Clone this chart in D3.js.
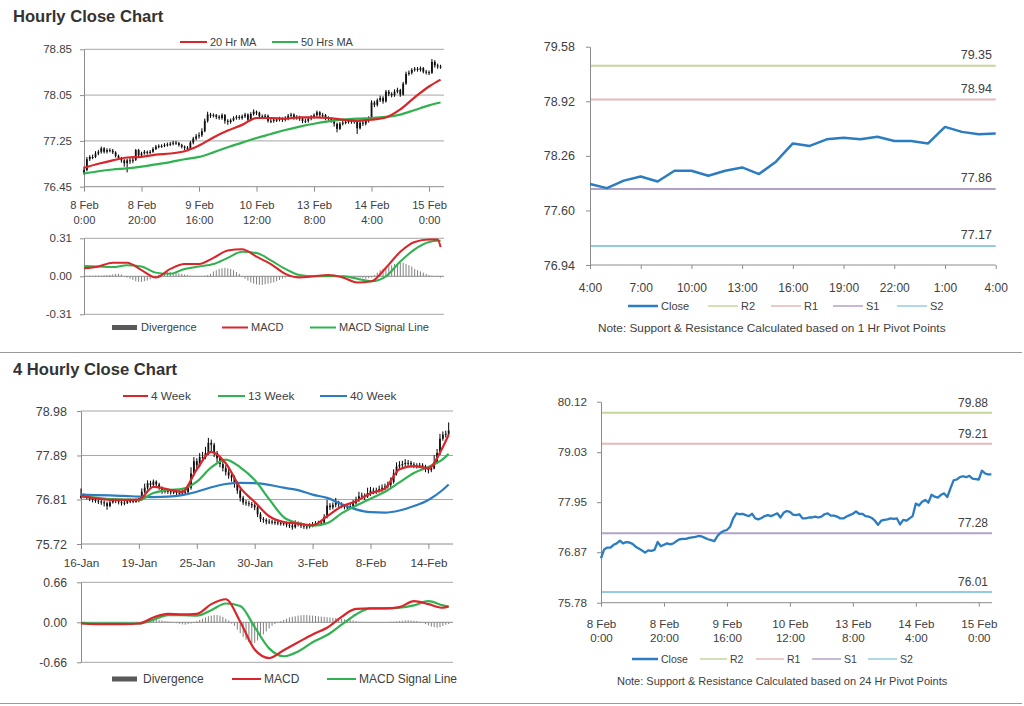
<!DOCTYPE html>
<html><head><meta charset="utf-8">
<script src="https://cdnjs.cloudflare.com/ajax/libs/d3/7.8.5/d3.min.js"></script>
<style>body{margin:0;background:#fff;} svg{display:block;font-family:"Liberation Sans",Arial,sans-serif;}</style>
</head><body><svg id="chart" width="1024" height="706"></svg>
<script>
// ================= DATA =================
// Hourly bars, 8 Feb 0:00 .. 15 Feb 4:00 (125 bars)
const hourTickIdx = [0,20,40,60,80,100,120];
const hourTickDay = ['8 Feb','8 Feb','9 Feb','10 Feb','13 Feb','14 Feb','15 Feb'];
const hourTickTime = ['0:00','20:00','16:00','12:00','8:00','4:00','0:00'];
const hourlyFirstOpen = 76.70;
const hourlyClose = [76.74,76.93,76.97,76.97,77.03,77.06,77.12,77.06,77.09,77.08,
77.05,76.99,76.95,76.91,76.86,76.91,76.90,76.92,77.09,77.00,
77.03,77.06,77.04,77.06,77.11,77.15,77.16,77.16,77.18,77.19,
77.20,77.22,77.21,77.18,77.15,77.13,77.11,77.22,77.29,77.33,
77.35,77.42,77.60,77.71,77.69,77.70,77.67,77.65,77.70,77.60,
77.58,77.61,77.65,77.67,77.65,77.68,77.71,77.62,77.72,77.76,
77.74,77.68,77.67,77.69,77.60,77.60,77.62,77.62,77.64,77.62,
77.64,77.69,77.71,77.66,77.66,77.64,77.60,77.60,77.64,77.67,
77.70,77.75,77.70,77.70,77.65,77.64,77.61,77.55,77.46,77.55,
77.57,77.58,77.60,77.59,77.60,77.47,77.57,77.55,77.60,77.65,
77.92,77.88,77.96,78.00,77.94,78.11,78.07,78.05,78.11,78.14,
78.06,78.25,78.42,78.44,78.49,78.51,78.49,78.52,78.46,78.45,
78.44,78.63,78.57,78.55,78.55];
const hourlyHigh = [76.80,76.97,77.00,77.01,77.07,77.09,77.15,77.14,77.12,77.12,
77.11,77.07,77.01,76.97,76.93,76.94,76.95,76.96,77.11,77.11,
77.06,77.09,77.08,77.09,77.14,77.18,77.19,77.19,77.21,77.22,
77.23,77.25,77.25,77.23,77.20,77.17,77.16,77.25,77.32,77.37,
77.40,77.47,77.64,77.76,77.74,77.73,77.72,77.70,77.73,77.72,
77.63,77.64,77.68,77.70,77.70,77.71,77.74,77.73,77.75,77.80,
77.78,77.76,77.71,77.72,77.71,77.64,77.66,77.66,77.67,77.66,
77.68,77.72,77.74,77.73,77.70,77.69,77.66,77.64,77.67,77.70,
77.73,77.78,77.77,77.74,77.72,77.68,77.66,77.63,77.57,77.58,
77.60,77.61,77.63,77.63,77.63,77.62,77.60,77.60,77.63,77.68,
77.96,77.95,77.99,78.04,78.03,78.14,78.14,78.10,78.15,78.18,
78.16,78.28,78.46,78.48,78.52,78.54,78.54,78.55,78.54,78.49,
78.48,78.68,78.66,78.60,78.58];
const hourlyLow = [76.66,76.72,76.90,76.93,76.95,77.00,77.03,77.03,77.03,77.05,
77.02,76.96,76.92,76.87,76.80,76.70,76.85,76.86,76.90,76.97,
76.97,77.01,77.01,77.02,77.04,77.09,77.12,77.13,77.14,77.15,
77.16,77.17,77.18,77.15,77.12,77.09,77.07,77.09,77.19,77.26,
77.29,77.32,77.40,77.57,77.65,77.66,77.63,77.62,77.62,77.55,
77.53,77.55,77.59,77.62,77.62,77.62,77.65,77.59,77.60,77.69,
77.70,77.65,77.63,77.64,77.57,77.56,77.57,77.58,77.59,77.58,
77.59,77.61,77.66,77.62,77.62,77.60,77.56,77.56,77.57,77.61,
77.64,77.67,77.66,77.66,77.61,77.60,77.57,77.50,77.40,77.44,
77.52,77.54,77.55,77.55,77.55,77.37,77.45,77.51,77.52,77.57,
77.62,77.84,77.85,77.93,77.90,77.92,78.03,78.01,78.02,78.08,
78.02,78.04,78.23,78.39,78.41,78.46,78.46,78.46,78.43,78.41,
78.40,78.42,78.53,78.51,78.51];
const maIdxH = [0,5,10,15,20,25,30,35,40,45,50,55,60,65,70,75,80,85,90,95,100,105,110,115,120,124];
const ma20Hr = [76.78,76.85,76.91,76.96,76.97,77.01,77.03,77.07,77.17,77.31,77.43,77.53,77.65,77.65,77.64,77.66,77.66,77.65,77.62,77.60,77.62,77.66,77.80,78.01,78.20,78.32];
const ma50Hr = [76.68,76.72,76.75,76.77,76.80,76.84,76.88,76.93,76.97,77.05,77.14,77.22,77.30,77.37,77.44,77.50,77.55,77.59,77.62,77.64,77.65,77.67,77.71,77.79,77.87,77.92];
const macdIdxH = [0,5,10,15,20,25,30,35,40,45,50,55,60,65,70,75,80,85,90,95,100,105,110,115,120,123,124];
const macdH = [0.065,0.08,0.11,0.11,0.05,-0.01,0.06,0.10,0.10,0.15,0.21,0.22,0.16,0.10,0.02,-0.01,0.00,0.01,-0.01,-0.05,-0.04,0.07,0.20,0.28,0.30,0.30,0.24];
const signalH = [0.085,0.08,0.075,0.09,0.08,0.03,0.02,0.06,0.08,0.10,0.15,0.20,0.19,0.13,0.06,0.01,0.00,0.00,0.00,-0.02,-0.04,0.00,0.12,0.22,0.28,0.29,0.29];
const divergenceH = [0.003,-0.003,0.004,0.004,0.005,0.006,0.005,0.008,0.01,
0.012,0.015,0.02,0.02,0.015,0.0,-0.01,
-0.02,-0.03,-0.04,-0.045,-0.045,-0.04,-0.035,-0.025,-0.01,
0.005,0.015,0.025,0.03,0.035,0.035,0.03,0.03,0.025,0.02,0.015,0.01,0.005,0.0,
0.0,-0.005,0.0,0.005,0.01,0.02,
0.04,0.05,0.06,0.065,0.07,0.065,0.06,0.05,0.035,0.02,
0.0,-0.02,-0.035,-0.05,-0.06,-0.065,-0.07,-0.07,-0.065,-0.06,-0.055,-0.05,-0.04,-0.03,-0.02,-0.01,
-0.005,0,0.003,0,-0.003,0,0.003,0.005,0.003,0,-0.003,0,0.003,0.005,0.003,0,0,-0.003,0,0.003,0,-0.003,-0.005,-0.008,-0.01,
-0.012,-0.015,-0.02,-0.015,-0.01,
0.01,0.03,0.05,0.06,0.07,0.08,0.09,0.10,0.105,0.11,0.11,0.10,0.09,0.08,0.06,
0.05,0.04,0.03,0.02,0.01,0.005,0.0,-0.005,-0.01];

// Last 24 hours, hourly close 4:00 .. 4:00
const last24Labels = ['4:00','7:00','10:00','13:00','16:00','19:00','22:00','1:00','4:00'];
const last24Close = [77.92,77.87,77.96,78.01,77.95,78.08,78.08,78.02,78.08,78.12,78.04,78.19,78.41,78.38,78.46,78.48,78.46,78.49,78.44,78.44,78.41,78.61,78.55,78.52,78.53];
const pivotNames = ['R2','R1','S1','S2'];
const pivot1Hr = [79.35,78.94,77.86,77.17];
const pivot24Hr = [79.88,79.21,77.28,76.01];
const yTicks1Hr = [76.94,77.60,78.26,78.92,79.58];
const yTicks24Hr = [75.78,76.87,77.95,79.03,80.12];

// 4-hourly bars, 16 Jan .. 15 Feb (128 bars)
const fourTickIdx = [0,20,40,60,80,100,120];
const fourTickLabels = ['16-Jan','19-Jan','25-Jan','30-Jan','3-Feb','8-Feb','14-Feb'];
const fourFirstOpen = 76.85;
const close4h = [76.90,76.90,76.86,76.82,76.80,76.78,76.76,76.74,76.72,76.65,
76.74,76.80,76.77,76.75,76.72,76.73,76.77,76.78,76.77,76.78,
76.80,77.00,77.10,77.21,77.17,77.25,77.18,77.10,77.00,77.02,
77.01,76.99,77.00,76.97,76.96,76.98,76.99,77.10,77.45,77.75,
77.65,77.85,77.85,77.95,78.20,78.15,77.95,77.82,77.68,77.58,
77.48,77.40,77.35,77.20,77.03,76.85,76.74,76.72,76.70,76.67,
76.62,76.45,76.33,76.31,76.27,76.27,76.26,76.25,76.24,76.23,
76.23,76.19,76.17,76.13,76.20,76.22,76.17,76.15,76.14,76.18,
76.21,76.23,76.23,76.24,76.38,76.66,76.62,76.68,76.74,76.70,
76.66,76.63,76.61,76.65,76.72,76.80,76.89,76.91,76.88,76.97,
77.03,77.02,77.03,77.07,77.10,77.13,77.17,77.24,77.45,77.62,
77.66,77.68,77.71,77.71,77.67,77.65,77.64,77.65,77.62,77.58,
77.53,77.57,77.72,77.95,78.30,78.40,78.42,78.50];
const high4h = [77.08,76.96,76.93,76.90,76.86,76.84,76.83,76.81,76.79,76.76,
76.79,76.85,76.84,76.81,76.79,76.79,76.82,76.83,76.82,76.83,
76.85,77.08,77.20,77.28,77.27,77.30,77.28,77.22,77.13,77.08,
77.07,77.06,77.06,77.04,77.03,77.04,77.05,77.18,77.60,77.85,
77.82,77.95,77.98,78.10,78.32,78.28,78.20,78.00,77.88,77.75,
77.65,77.55,77.48,77.40,77.25,77.08,76.90,76.80,76.78,76.75,
76.72,76.66,76.50,76.38,76.35,76.33,76.32,76.31,76.30,76.29,
76.28,76.27,76.24,76.21,76.30,76.27,76.25,76.22,76.20,76.23,
76.26,76.28,76.29,76.30,76.45,76.80,76.72,76.74,76.85,76.78,
76.74,76.70,76.68,76.71,76.80,76.88,77.00,76.98,76.96,77.10,
77.12,77.10,77.10,77.15,77.18,77.20,77.25,77.35,77.55,77.72,
77.75,77.76,77.80,77.78,77.76,77.72,77.70,77.71,77.70,77.66,
77.62,77.65,77.90,78.05,78.42,78.48,78.50,78.70];
const low4h = [76.83,76.84,76.81,76.77,76.74,76.73,76.70,76.68,76.64,76.56,
76.62,76.71,76.72,76.69,76.66,76.67,76.70,76.72,76.72,76.73,
76.74,76.78,76.96,77.05,77.10,77.12,77.12,77.05,76.95,76.96,
76.95,76.93,76.94,76.92,76.91,76.92,76.94,76.96,77.05,77.40,
77.55,77.60,77.75,77.80,77.90,78.00,77.85,77.72,77.60,77.50,
77.40,77.32,77.25,77.10,76.95,76.76,76.68,76.66,76.64,76.60,
76.55,76.38,76.26,76.24,76.20,76.21,76.20,76.19,76.18,76.17,
76.17,76.13,76.11,76.07,76.10,76.15,76.11,76.09,76.08,76.10,
76.13,76.16,76.17,76.18,76.20,76.35,76.55,76.57,76.62,76.63,
76.60,76.57,76.55,76.57,76.60,76.68,76.75,76.82,76.80,76.85,
76.90,76.94,76.95,76.98,77.00,77.04,77.08,77.10,77.20,77.40,
77.55,77.58,77.62,77.63,77.60,77.58,77.57,77.58,77.55,77.48,
77.45,77.48,77.55,77.68,77.90,78.25,78.33,78.38];
const maIdx4h = [0,5,10,15,20,25,30,35,40,45,50,55,60,65,70,75,80,85,90,95,100,105,110,115,120,125,127];
const ma4Week = [76.90,76.84,76.80,76.80,76.81,77.12,77.06,77.00,77.55,77.98,77.70,77.10,76.75,76.40,76.26,76.22,76.18,76.40,76.64,76.77,76.96,77.08,77.55,77.63,77.58,78.10,78.40];
const ma13Week = [76.88,76.86,76.82,76.81,76.80,76.97,77.04,77.07,77.25,77.60,77.79,77.60,77.29,76.82,76.38,76.23,76.17,76.23,76.47,76.66,76.83,77.00,77.23,77.46,77.61,77.80,77.93];
const ma40Week = [76.93,76.92,76.91,76.90,76.88,76.87,76.88,76.92,77.00,77.11,77.19,77.22,77.21,77.17,77.10,77.04,76.93,76.85,76.70,76.57,76.50,76.49,76.54,76.65,76.80,77.05,77.18];
const macd4h = [-0.02,-0.03,-0.03,-0.03,-0.02,0.08,0.14,0.13,0.14,0.30,0.38,0.01,-0.45,-0.59,-0.46,-0.33,-0.20,-0.09,0.09,0.22,0.23,0.23,0.25,0.35,0.30,0.24,0.26];
const signal4h = [-0.01,-0.02,-0.02,-0.02,-0.02,0.04,0.12,0.12,0.11,0.20,0.31,0.27,-0.08,-0.43,-0.56,-0.48,-0.33,-0.21,-0.04,0.13,0.23,0.23,0.24,0.28,0.35,0.28,0.26];
const divergence4h = [-0.005,-0.01,-0.01,-0.008,-0.01,-0.01,-0.008,-0.01,-0.01,-0.012,-0.01,-0.008,-0.01,-0.01,-0.008,-0.01,-0.01,-0.008,-0.005,-0.005,0.0,
0.01,0.02,0.03,0.04,0.045,0.04,0.035,0.03,0.02,0.015,0.01,0.0,
-0.015,-0.025,-0.035,-0.04,-0.03,-0.02,-0.005,
0.02,0.04,0.06,0.08,0.10,0.11,0.12,0.12,0.11,0.09,0.06,0.03,
-0.02,-0.06,-0.12,-0.18,-0.24,-0.29,-0.33,-0.35,-0.34,-0.30,-0.25,-0.20,-0.15,-0.10,-0.06,-0.03,-0.01,
0.02,0.04,0.06,0.08,0.09,0.10,0.11,0.115,0.12,0.12,0.115,0.11,0.105,0.10,0.095,0.09,0.085,0.08,0.075,0.07,0.065,0.06,0.05,0.04,0.035,0.03,0.02,
0.01,0.01,0.005,0.0,-0.005,-0.005,-0.01,-0.01,-0.005,0.0,0.005,0.01,0.01,0.015,
0.02,0.025,0.03,0.035,0.03,0.025,0.02,0.01,
-0.01,-0.03,-0.05,-0.07,-0.08,-0.09,-0.08,-0.06,-0.04,-0.03];

// ================= STYLE =================
const FONT = '"Liberation Sans", Arial, sans-serif';
const TXT = '#404040';
const GRID = '#a6a6a6';
const AXC = '#8c8c8c';
const RED = '#d8262a';
const GREEN = '#2fb24f';
const BLUE = '#2c7cc1';
const pivotColors = ['#c3d69b','#e6b9b8','#b3a2c7','#93cddd'];
const fmt2 = d => d.toFixed(2);

const svg = d3.select('#chart');

function styleAxis(g, size) {
  g.select('.domain').attr('stroke', AXC);
  g.selectAll('.tick line').attr('stroke', AXC);
  g.selectAll('.tick text').attr('fill', TXT).attr('font-size', size).attr('font-family', FONT);
}
function hGrid(x0, x1, ys, vals) {
  svg.append('g').selectAll('line').data(vals).join('line')
    .attr('x1', x0).attr('x2', x1).attr('y1', d => ys(d)).attr('y2', d => ys(d))
    .attr('stroke', GRID).attr('stroke-width', 1);
}
function legendLine(x1, x2, y, color, label, size, w) {
  svg.append('line').attr('x1', x1).attr('x2', x2).attr('y1', y).attr('y2', y)
    .attr('stroke', color).attr('stroke-width', w || 2);
  svg.append('text').attr('x', x2 + 3).attr('y', y + size * 0.36).attr('font-size', size)
    .attr('fill', TXT).text(label);
}
function legendRect(x1, x2, y, label, size, tx) {
  svg.append('rect').attr('x', x1).attr('y', y - 2.5).attr('width', x2 - x1).attr('height', 5).attr('fill', '#595959');
  svg.append('text').attr('x', tx).attr('y', y + size * 0.36).attr('font-size', size).attr('fill', TXT).text(label);
}
function drawLine(xs, ys, idx, vals, color, w) {
  svg.append('path').datum(idx.map((i, k) => [i, vals[k]]))
    .attr('fill', 'none').attr('stroke', color).attr('stroke-width', w)
    .attr('stroke-linejoin', 'round')
    .attr('d', d3.line().x(d => xs(d[0])).y(d => ys(d[1])).curve(d3.curveMonotoneX));
}
function drawCandles(xs, ys, close, high, low, firstOpen, bw) {
  const data = close.map((c, i) => ({ i, o: i ? close[i - 1] : firstOpen, c, h: high[i], l: low[i] }));
  const g = svg.append('g');
  g.selectAll('line').data(data).join('line')
    .attr('x1', d => xs(d.i)).attr('x2', d => xs(d.i))
    .attr('y1', d => ys(d.h)).attr('y2', d => ys(d.l))
    .attr('stroke', '#000').attr('stroke-width', 1);
  g.selectAll('rect').data(data).join('rect')
    .attr('x', d => xs(d.i) - bw / 2).attr('width', bw)
    .attr('y', d => ys(Math.max(d.o, d.c)))
    .attr('height', d => Math.max(1, Math.abs(ys(d.o) - ys(d.c))))
    .attr('fill', '#111');
}
function drawDivergence(xs, ys, vals) {
  svg.append('g').selectAll('rect').data(vals).join('rect')
    .attr('x', (d, i) => xs(i) - 0.5).attr('width', 1)
    .attr('y', d => Math.min(ys(d), ys(0))).attr('height', d => Math.max(0.5, Math.abs(ys(d) - ys(0))))
    .attr('fill', '#808080');
}

// ================= TITLES / SEPARATORS =================
svg.append('text').attr('x', 13).attr('y', 22).attr('font-size', 16.6).attr('font-weight', 'bold').attr('fill', '#333').text('Hourly Close Chart');
svg.append('text').attr('x', 13).attr('y', 375).attr('font-size', 16.6).attr('font-weight', 'bold').attr('fill', '#333').text('4 Hourly Close Chart');
svg.append('line').attr('x1', 0).attr('x2', 1022).attr('y1', 352.5).attr('y2', 352.5).attr('stroke', '#9a9a9a');
svg.append('line').attr('x1', 0).attr('x2', 1022).attr('y1', 703.5).attr('y2', 703.5).attr('stroke', '#9a9a9a');

// ================= PANEL 1: hourly candles =================
{
  const x = d3.scaleLinear().domain([0, 125.2]).range([84, 444]);
  const y = d3.scaleLinear().domain([76.45, 78.85]).range([186.7, 49.3]);
  hGrid(84, 444, y, [78.85, 78.05, 77.25]);
  const ya = svg.append('g').attr('transform', 'translate(84,0)')
    .call(d3.axisLeft(y).tickValues([76.45, 77.25, 78.05, 78.85]).tickFormat(fmt2).tickSize(4).tickPadding(8).tickSizeOuter(0));
  styleAxis(ya, 11.5);
  const xa = svg.append('g').attr('transform', `translate(0,${y(76.45)})`)
    .call(d3.axisBottom(x).tickValues(hourTickIdx).tickSize(5).tickSizeOuter(0));
  styleAxis(xa, 11.2);
  xa.select('.domain').attr('d', `M84,0H444`);
  xa.selectAll('.tick text').each(function (d) {
    const k = hourTickIdx.indexOf(d); const t = d3.select(this).text(null).attr('dy', null).attr('y', 0);
    t.append('tspan').attr('x', 0).attr('y', 22.6).text(hourTickDay[k]);
    t.append('tspan').attr('x', 0).attr('y', 37.3).text(hourTickTime[k]);
  });
  drawCandles(x, y, hourlyClose, hourlyHigh, hourlyLow, hourlyFirstOpen, 1.8);
  drawLine(x, y, maIdxH, ma50Hr, GREEN, 2.2);
  drawLine(x, y, maIdxH, ma20Hr, RED, 2.2);
  legendLine(180, 207, 42, RED, '20 Hr MA', 11);
  legendLine(272, 298, 42, GREEN, '50 Hrs MA', 11);
}
// ================= PANEL 2: hourly MACD =================
{
  const x = d3.scaleLinear().domain([0, 125.2]).range([84, 444]);
  const y = d3.scaleLinear().domain([-0.31, 0.31]).range([314.3, 238.3]);
  hGrid(84, 444, y, [0.31, -0.31]);
  const ya = svg.append('g').attr('transform', 'translate(84,0)')
    .call(d3.axisLeft(y).tickValues([-0.31, 0, 0.31]).tickFormat(fmt2).tickSize(4).tickPadding(8).tickSizeOuter(0));
  styleAxis(ya, 11.5);
  svg.append('line').attr('x1', 84).attr('x2', 444).attr('y1', y(0)).attr('y2', y(0)).attr('stroke', AXC);
  drawDivergence(x, y, divergenceH);
  drawLine(x, y, macdIdxH, signalH, GREEN, 2);
  drawLine(x, y, macdIdxH, macdH, RED, 2);
  legendRect(112, 137, 327.5, 'Divergence', 11, 141);
  legendLine(222, 248, 327.5, RED, 'MACD', 11);
  legendLine(310, 336, 327.5, GREEN, 'MACD Signal Line', 11);
}
// ================= PANEL 3: last 24 hours close =================
function pivotPanel(opt) {
  const { x, y, yTicks, xTickIdx, xLabels2, close, pivots, labelX, labelDy, size, xLabelY } = opt;
  pivots.forEach((p, k) => {
    svg.append('line').attr('x1', x.range()[0]).attr('x2', opt.right).attr('y1', y(p)).attr('y2', y(p))
      .attr('stroke', pivotColors[k]).attr('stroke-width', 2);
    svg.append('text').attr('x', labelX).attr('y', y(p) - labelDy).attr('text-anchor', 'end')
      .attr('font-size', opt.pivotSize).attr('fill', TXT).text(fmt2(p));
  });
  const ya = svg.append('g').attr('transform', `translate(${x.range()[0]},0)`)
    .call(d3.axisLeft(y).tickValues(yTicks).tickFormat(fmt2).tickSize(4).tickPadding(opt.yPad).tickSizeOuter(0));
  styleAxis(ya, size);
  const xa = svg.append('g').attr('transform', `translate(0,${y.range()[0]})`)
    .call(d3.axisBottom(x).tickValues(xTickIdx).tickSize(4).tickSizeOuter(0));
  styleAxis(xa, opt.xSize);
  xa.select('.domain').attr('d', `M${x.range()[0]},0H${opt.right}`);
  xa.selectAll('.tick text').each(function (d) {
    const k = xTickIdx.indexOf(d); const t = d3.select(this).text(null).attr('dy', null).attr('y', 0);
    xLabels2.forEach((arr, r) => t.append('tspan').attr('x', 0).attr('y', xLabelY[r]).text(arr[k]));
  });
  svg.append('path').datum(close).attr('fill', 'none').attr('stroke', BLUE).attr('stroke-width', opt.lw)
    .attr('stroke-linejoin', 'round')
    .attr('d', d3.line().x((d, i) => x(i)).y(d => y(d)));
}
{
  const x = d3.scaleLinear().domain([0, 24]).range([590, 995.7]);
  const y = d3.scaleLinear().domain([76.94, 79.58]).range([265, 46.7]);
  pivotPanel({ x, y, right: 995.7, yTicks: yTicks1Hr, xTickIdx: [0, 3, 6, 9, 12, 15, 18, 21, 24],
    xLabels2: [last24Labels], xLabelY: [27.3], close: last24Close, pivots: pivot1Hr, labelX: 992, labelDy: 7,
    size: 12.5, xSize: 12, yPad: 11, pivotSize: 12.5, lw: 2.5 });
  const ly = 306;
  legendLine(628, 658, ly, BLUE, 'Close', 11, 2.5);
  pivotNames.forEach((n, k) => legendLine([708, 771, 833, 897][k], [738, 801, 863, 927][k], ly, pivotColors[k], n, 11, 1.5));
  svg.append('text').attr('x', 598).attr('y', 332).attr('font-size', 11.8).attr('fill', TXT)
    .text('Note: Support & Resistance Calculated based on 1 Hr Pivot Points');
}
// ================= PANEL 4: 4-hourly candles =================
{
  const x = d3.scaleLinear().domain([0, 128.5]).range([81, 453]);
  const y = d3.scaleLinear().domain([75.72, 78.98]).range([544, 411]);
  hGrid(81, 453, y, [78.98, 77.89, 76.81]);
  const ya = svg.append('g').attr('transform', 'translate(81,0)')
    .call(d3.axisLeft(y).tickValues([75.72, 76.81, 77.89, 78.98]).tickFormat(fmt2).tickSize(4).tickPadding(10).tickSizeOuter(0));
  styleAxis(ya, 12.5);
  const xa = svg.append('g').attr('transform', `translate(0,544)`)
    .call(d3.axisBottom(x).tickValues(fourTickIdx).tickFormat((d, i) => fourTickLabels[i]).tickSize(5).tickSizeOuter(0));
  styleAxis(xa, 11.7);
  xa.select('.domain').attr('d', `M81,0H453`);
  xa.selectAll('.tick text').attr('dy', null).attr('y', 22.7);
  drawCandles(x, y, close4h, high4h, low4h, fourFirstOpen, 1.8);
  drawLine(x, y, maIdx4h, ma40Week, BLUE, 2.2);
  drawLine(x, y, maIdx4h, ma13Week, GREEN, 2.2);
  drawLine(x, y, maIdx4h, ma4Week, RED, 2.2);
  legendLine(123, 148, 396, RED, '4 Week', 11.8);
  legendLine(218, 245, 396, GREEN, '13 Week', 11.8);
  legendLine(320, 347, 396, BLUE, '40 Week', 11.8);
}
// ================= PANEL 5: 4-hourly MACD =================
{
  const x = d3.scaleLinear().domain([0, 128.5]).range([81, 453]);
  const y = d3.scaleLinear().domain([-0.66, 0.66]).range([662.3, 582.3]);
  hGrid(81, 453, y, [0.66, -0.66]);
  const ya = svg.append('g').attr('transform', 'translate(81,0)')
    .call(d3.axisLeft(y).tickValues([-0.66, 0, 0.66]).tickFormat(fmt2).tickSize(4).tickPadding(10).tickSizeOuter(0));
  styleAxis(ya, 12.2);
  svg.append('line').attr('x1', 81).attr('x2', 453).attr('y1', y(0)).attr('y2', y(0)).attr('stroke', AXC);
  drawDivergence(x, y, divergence4h);
  drawLine(x, y, maIdx4h, signal4h, GREEN, 2.2);
  drawLine(x, y, maIdx4h, macd4h, RED, 2.2);
  legendRect(112, 137, 679, 'Divergence', 12, 143);
  legendLine(232, 261, 679, RED, 'MACD', 12);
  legendLine(327, 356, 679, GREEN, 'MACD Signal Line', 12);
}
// ================= PANEL 6: hourly close with 24h pivots =================
{
  const x = d3.scaleLinear().domain([0, 124.2]).range([601, 992]);
  const y = d3.scaleLinear().domain([75.78, 80.12]).range([602.7, 401.7]);
  pivotPanel({ x, y, right: 992, yTicks: yTicks24Hr, xTickIdx: hourTickIdx,
    xLabels2: [hourTickDay, hourTickTime], xLabelY: [25.6, 39.6], close: hourlyClose, pivots: pivot24Hr, labelX: 988, labelDy: 6,
    size: 11.7, xSize: 11.6, yPad: 10, pivotSize: 12, lw: 2.3 });
  const ly = 659;
  legendLine(632, 658, ly, BLUE, 'Close', 10.5, 2.5);
  pivotNames.forEach((n, k) => legendLine([700, 756, 812, 868][k], [727, 784, 841, 897][k], ly, pivotColors[k], n, 10.5, 1.5));
  svg.append('text').attr('x', 617).attr('y', 684.5).attr('font-size', 11).attr('fill', TXT)
    .text('Note: Support & Resistance Calculated based on 24 Hr Pivot Points');
}
</script></body></html>
